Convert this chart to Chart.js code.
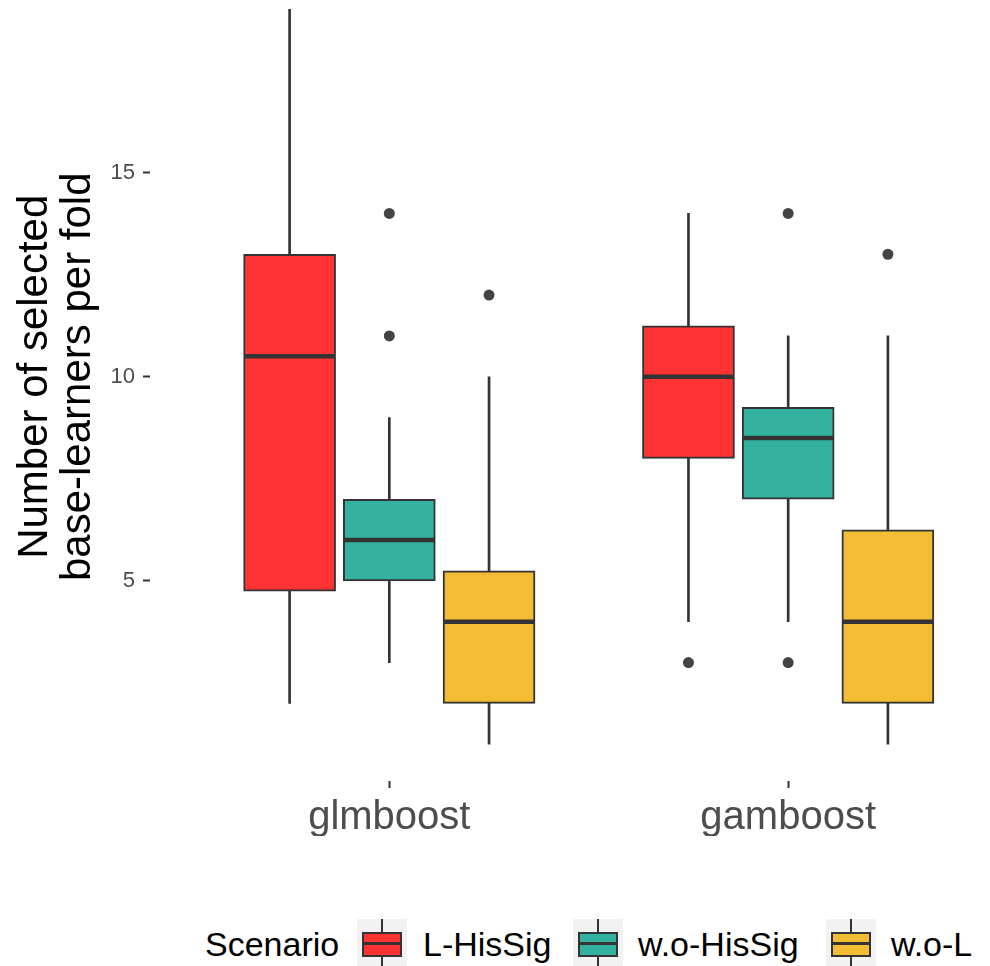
<!DOCTYPE html>
<html>
<head>
<meta charset="utf-8">
<script src="https://cdn.jsdelivr.net/npm/chart.js@4/dist/chart.umd.min.js"></script>
<style>
  html, body { margin: 0; padding: 0; background: #fff; overflow: hidden; width: 990px; height: 966px; }
  #wrap { position: absolute; left: 0; top: -33px; }
  .legend-text { position: absolute; font-family: 'Liberation Sans', Arial, sans-serif; font-size: 34px; color: #000; line-height: 50px; height: 50px; white-space: nowrap; }
  .key { position: absolute; width: 50px; height: 50px; background: #f2f2f2; }
  .key .wh { position: absolute; left: 24px; top: 0; width: 2px; height: 50px; background: #333; }
  .key .bx { position: absolute; left: 5px; top: 13px; width: 36px; height: 21px; border: 2px solid #333; }
  .key .md { position: absolute; left: 5px; top: 23px; width: 40px; height: 3px; background: #333; }
</style>
</head>
<body>
<div id="wrap"><canvas id="c" width="1033" height="869"></canvas></div>
<div id="legend"></div>
<script>
// Groups on the x axis and the three scenarios that are dodged within each group
const groups = ['glmboost', 'gamboost'];
const scenarios = ['L-HisSig', 'w.o-HisSig', 'w.o-L'];
const colors = ['#FF3333', '#33B39F', '#F3BC35'];
const yTicks = [5, 10, 15];

// Box statistics per scenario, one entry per group (glmboost, gamboost)
const lHisSigLow   = [2, 4];
const lHisSigQ1    = [4.75, 8];
const lHisSigMed   = [10.5, 10];
const lHisSigQ3    = [13, 11.25];
const lHisSigHigh  = [19, 14];
const lHisSigOut   = [[], [3]];

const woHisSigLow  = [3, 4];
const woHisSigQ1   = [5, 7];
const woHisSigMed  = [6, 8.5];
const woHisSigQ3   = [7, 9.25];
const woHisSigHigh = [9, 11];
const woHisSigOut  = [[11, 14], [3, 14]];

const woLLow  = [1, 1];
const woLQ1   = [2, 2];
const woLMed  = [4, 4];
const woLQ3   = [5.25, 6.25];
const woLHigh = [10, 11];
const woLOut  = [[12], [13]];

const stats = [
  { low: lHisSigLow, q1: lHisSigQ1, med: lHisSigMed, q3: lHisSigQ3, high: lHisSigHigh, out: lHisSigOut },
  { low: woHisSigLow, q1: woHisSigQ1, med: woHisSigMed, q3: woHisSigQ3, high: woHisSigHigh, out: woHisSigOut },
  { low: woLLow, q1: woLQ1, med: woLMed, q3: woLQ3, high: woLHigh, out: woLOut }
];

const DODGE = 0.25;      // spacing between scenario boxes, in group units
const BOX_PX = 92;       // box width in pixels
const FONT = "'Liberation Sans', Arial, sans-serif";

const xPos = (g, s) => (g + 1) + (s - 1) * DODGE;

const outlierSets = [], boxSets = [], whiskerSets = [];
stats.forEach((st, s) => {
  const pts = [];
  st.out.forEach((vals, g) => vals.forEach(v => pts.push({ x: xPos(g, s), y: v })));
  outlierSets.push({
    type: 'scatter', label: scenarios[s] + ' outliers', data: pts,
    pointRadius: 5.5, pointBackgroundColor: '#444', pointBorderColor: '#444', pointBorderWidth: 0
  });
  boxSets.push({
    type: 'bar', label: scenarios[s],
    data: groups.map((_, g) => ({ x: xPos(g, s), y: [st.q1[g], st.q3[g]] })),
    backgroundColor: colors[s], borderColor: '#333', borderWidth: 2, borderSkipped: false,
    barThickness: BOX_PX, grouped: false
  });
  const wdata = [];
  groups.forEach((_, g) => {
    wdata.push({ x: xPos(g, s), y: [st.low[g], st.q1[g]] });
    wdata.push({ x: xPos(g, s), y: [st.q3[g], st.high[g]] });
  });
  whiskerSets.push({
    type: 'bar', label: scenarios[s] + ' whiskers', data: wdata,
    backgroundColor: '#333', borderWidth: 0, barThickness: 2, grouped: false
  });
});

// Median lines across each box
const medianPlugin = {
  id: 'medians',
  afterDatasetsDraw(chart) {
    const { ctx, scales: { x, y } } = chart;
    ctx.save();
    ctx.strokeStyle = '#333';
    ctx.lineWidth = 4.5;
    stats.forEach((st, s) => {
      st.med.forEach((m, g) => {
        const px = x.getPixelForValue(xPos(g, s));
        const py = y.getPixelForValue(m);
        ctx.beginPath();
        ctx.moveTo(px - BOX_PX / 2 + 1, py);
        ctx.lineTo(px + BOX_PX / 2 - 1, py);
        ctx.stroke();
      });
    });
    ctx.restore();
  }
};

new Chart(document.getElementById('c'), {
  type: 'bar',
  data: { datasets: [...outlierSets, ...boxSets, ...whiskerSets] },
  plugins: [medianPlugin],
  options: {
    responsive: false,
    animation: false,
    devicePixelRatio: 1,
    layout: { padding: 0 },
    plugins: { legend: { display: false }, tooltip: { enabled: false } },
    scales: {
      x: {
        type: 'linear', min: 0.4, max: 2.6, offset: false,
        afterBuildTicks: sc => { sc.ticks = groups.map((_, i) => ({ value: i + 1 })); },
        afterFit: sc => { sc.height = 55; sc.paddingLeft = 0; sc.paddingRight = 0; },
        ticks: {
          callback: v => groups[v - 1], color: '#4d4d4d', padding: 6,
          font: { family: FONT, size: 40 }, maxRotation: 0, autoSkip: false
        },
        grid: { display: true, drawOnChartArea: false, drawTicks: true, tickLength: 7, tickColor: '#333', tickWidth: 2, offset: false },
        border: { display: false }
      },
      y: {
        type: 'linear', min: 0.1, max: 19.9,
        afterBuildTicks: sc => { sc.ticks = yTicks.map(v => ({ value: v })); },
        afterFit: sc => { sc.width = 150; sc.paddingTop = 0; sc.paddingBottom = 0; },
        ticks: { color: '#4d4d4d', padding: 8, font: { family: FONT, size: 22 } },
        grid: { display: true, drawOnChartArea: false, drawTicks: true, tickLength: 7, tickColor: '#333', tickWidth: 2 },
        border: { display: false },
        title: {
          display: true, text: ['Number of selected', 'base-learners per fold'],
          color: '#000', font: { family: FONT, size: 42, lineHeight: 1.02 }, padding: { top: 14, bottom: 0 }
        }
      }
    }
  }
});

// Legend row: title, then one boxplot key and label per scenario
const legend = document.getElementById('legend');
const LEG_TOP = 919;
const legendTitle = { text: 'Scenario', left: 205 };
const keyLeft = [357, 573, 826];
const labelLeft = [423, 638, 891];
const addText = (t, left) => {
  const d = document.createElement('div');
  d.className = 'legend-text'; d.textContent = t;
  d.style.left = left + 'px'; d.style.top = LEG_TOP + 'px';
  legend.appendChild(d);
};
addText(legendTitle.text, legendTitle.left);
scenarios.forEach((name, s) => {
  const k = document.createElement('div');
  k.className = 'key';
  k.style.left = keyLeft[s] + 'px'; k.style.top = LEG_TOP + 'px';
  k.innerHTML = '<div class="wh"></div><div class="bx" style="background:' + colors[s] + '"></div><div class="md"></div>';
  legend.appendChild(k);
  addText(name, labelLeft[s]);
});
</script>
</body>
</html>
